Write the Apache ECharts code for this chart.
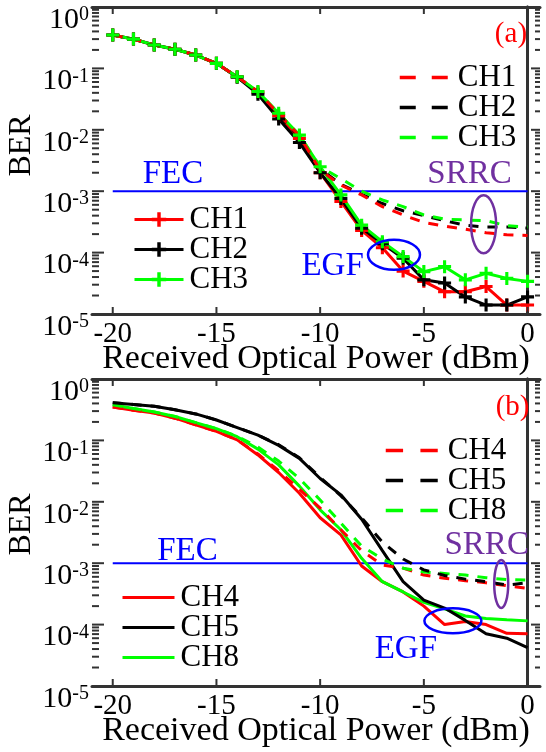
<!DOCTYPE html>
<html>
<head>
<meta charset="utf-8">
<script src="https://cdn.jsdelivr.net/npm/echarts@6/dist/echarts.min.js"></script>
<style>
  html, body { margin: 0; padding: 0; background: #fff; }
  #grafico { width: 546px; height: 752px; }
</style>
</head>
<body>
<div id="grafico"></div>
<script>
// potencia optica recibida (dBm)
const potencia = [-20,-19,-18,-17,-16,-15,-14,-13,-12,-11,-10,-9,-8,-7,-6,-5,-4,-3,-2,-1,0];
const ticksX = [-20, -15, -10, -5, 0];
const ticksY = [1e-5, 1e-4, 1e-3, 1e-2, 1e-1, 1];
const umbralFEC = 1e-3;

// (a) EGF, solidas con marcadores
const ch1EGF = [0.35,0.30,0.24,0.205,0.165,0.121,0.073,0.041,0.017,0.0072,0.0020,6.8e-4,2.3e-4,1.2e-4,5.0e-5,3.4e-5,2.3e-5,2.3e-5,2.8e-5,1.4e-5,1.4e-5];
const ch2EGF = [0.35,0.30,0.24,0.205,0.165,0.121,0.072,0.038,0.015,0.0062,0.0020,7.6e-4,2.5e-4,1.4e-4,8.1e-5,3.6e-5,3.2e-5,1.9e-5,1.4e-5,1.4e-5,1.9e-5];
const ch3EGF = [0.35,0.30,0.24,0.205,0.165,0.121,0.073,0.042,0.0186,0.0082,0.0025,8.7e-4,2.8e-4,1.5e-4,8.6e-5,4.9e-5,5.9e-5,3.6e-5,4.6e-5,3.8e-5,3.4e-5];
// (a) SRRC, discontinuas
const ch1SRRC = [0.35,0.30,0.24,0.205,0.165,0.121,0.073,0.042,0.018,0.0080,0.0022,0.00126,8.7e-4,5.6e-4,4.1e-4,3.1e-4,2.7e-4,2.4e-4,2.1e-4,1.95e-4,1.9e-4];
const ch2SRRC = [0.35,0.30,0.24,0.205,0.165,0.121,0.072,0.040,0.017,0.0078,0.0023,0.0013,8.9e-4,6.3e-4,4.8e-4,4.0e-4,3.3e-4,2.8e-4,2.6e-4,2.6e-4,2.5e-4];
const ch3SRRC = [0.35,0.30,0.24,0.205,0.165,0.121,0.073,0.042,0.0186,0.0082,0.0025,0.0016,0.0010,7.2e-4,5.6e-4,4.1e-4,3.5e-4,3.4e-4,3.3e-4,2.75e-4,2.6e-4];

// (b) EGF, solidas
const ch4EGF = [0.35,0.31,0.28,0.23,0.18,0.14,0.102,0.058,0.030,0.0138,0.0055,0.0029,9.0e-4,5.0e-4,3.4e-4,2.0e-4,1.0e-4,1.12e-4,1.0e-4,7.2e-5,7.1e-5];
const ch5EGF = [0.41,0.385,0.36,0.315,0.27,0.215,0.162,0.122,0.083,0.051,0.024,0.013,0.0052,0.0016,5.0e-4,2.5e-4,1.86e-4,1.17e-4,7.1e-5,6.0e-5,4.2e-5];
const ch8EGF = [0.38,0.33,0.29,0.245,0.195,0.155,0.115,0.072,0.040,0.018,0.0074,0.0035,0.0012,5.0e-4,3.4e-4,2.3e-4,1.8e-4,1.38e-4,1.26e-4,1.2e-4,1.15e-4];
// (b) SRRC, discontinuas
const ch4SRRC = [0.35,0.31,0.28,0.23,0.18,0.14,0.102,0.060,0.032,0.016,0.0079,0.0035,0.0016,9.3e-4,8.3e-4,6.4e-4,5.7e-4,5.2e-4,4.8e-4,4.3e-4,3.9e-4];
const ch5SRRC = [0.41,0.385,0.36,0.315,0.27,0.215,0.162,0.122,0.085,0.052,0.025,0.0125,0.0055,0.0022,0.00117,7.8e-4,6.3e-4,5.5e-4,5.0e-4,4.4e-4,4.8e-4];
const ch8SRRC = [0.38,0.33,0.29,0.245,0.195,0.155,0.117,0.078,0.046,0.024,0.0107,0.0045,0.0019,0.00117,8.3e-4,7.2e-4,6.8e-4,6.4e-4,5.8e-4,5.4e-4,5.3e-4];

// anotaciones (en coordenadas de datos)
const notas = [
  { g: 0, texto: 'FEC',  p: -17.1, ber: 1e-3, dy: -17, color: '#0000ff', size: 33 },
  { g: 0, texto: 'SRRC', p: -2.8,  ber: 1e-3, dy: -17, color: '#7030a0', size: 33 },
  { g: 0, texto: '(a)',  p: -0.8,  ber: 0.36, dy: 0,   color: '#ff0000', size: 29 },
  { g: 0, texto: 'EGF',  p: -9.4,  ber: 6e-5, dy: 0,   color: '#0000ff', size: 33 },
  { g: 1, texto: 'FEC',  p: -16.4, ber: 1e-3, dy: -12, color: '#0000ff', size: 33 },
  { g: 1, texto: 'SRRC', p: -1.97, ber: 1e-3, dy: -18, color: '#7030a0', size: 33 },
  { g: 1, texto: '(b)',  p: -0.72, ber: 0.34, dy: 0,   color: '#ff0000', size: 29 },
  { g: 1, texto: 'EGF',  p: -5.87, ber: 4e-5, dy: 0,   color: '#0000ff', size: 33 }
];
const elipses = [
  { g: 0, p: -6.44, ber: 9.2e-5, rx: 26, ry: 15, color: '#0000ff' },
  { g: 0, p: -2.12, ber: 2.9e-4, rx: 12.5, ry: 29, color: '#7030a0' },
  { g: 1, p: -3.6,  ber: 1.15e-4, rx: 28.5, ry: 12.5, color: '#0000ff' },
  { g: 1, p: -1.27, ber: 4.6e-4, rx: 7, ry: 24, color: '#7030a0' }
];

const fuente = "'Liberation Serif', 'Times New Roman', serif";
const cruz = 'path://M3.8,0H6.2V3.8H10V6.2H6.2V10H3.8V6.2H0V3.8H3.8Z';
const ROJO = '#ff0000', NEGRO = '#000000', VERDE = '#00ff00';
const X_MIN = -21, X_MAX = 0.6, Y_MIN = 1e-5, Y_MAX = 1;

// marcas menores del eje log (2..9 por decada)
const menores = [];
for (let e = -5; e < 0; e++) {
  for (let k = 2; k <= 9; k++) menores.push(k * Math.pow(10, e));
}

// direccion y largo de cada tipo de marca (abajo, arriba, izq mayor, izq menor, der mayor, der menor)
const marcasDir = [[0, -7], [0, 7], [12, 0], [7, 0], [-9, 0], [-5, 0]];

function ejesX(g) {
  const base = {
    type: 'value', gridIndex: g, min: X_MIN, max: X_MAX,
    axisLine: { show: true, lineStyle: { color: '#333', width: 3 } },
    axisTick: { show: false },
    splitLine: { show: false }
  };
  return [
    Object.assign({}, base, {
      position: 'bottom',
      axisLabel: { customValues: ticksX, fontSize: 29, fontFamily: fuente, color: '#000', margin: 6 },
      name: 'Received Optical Power (dBm)', nameLocation: 'middle', nameGap: 28,
      nameMoveOverlap: false,
      nameTextStyle: { fontSize: 34, fontFamily: fuente, color: '#000' }
    }),
    Object.assign({}, base, { position: 'top', axisLabel: { show: false } })
  ];
}

function ejesY(g, subir) {
  const base = {
    type: 'log', logBase: 10, gridIndex: g, min: Y_MIN, max: Y_MAX,
    axisLine: { show: true, lineStyle: { color: '#333', width: 3 } },
    axisTick: { show: false },
    splitLine: { show: false }, axisLabel: { show: false }
  };
  return [
    Object.assign({}, base, {
      position: 'left',
      axisLabel: {
        show: true, customValues: ticksY, margin: 3, fontFamily: fuente, color: '#000',
        formatter: v => '{e| }\n{b|10}{s|' + Math.round(Math.log10(v)) + '}',
        rich: {
          e: { fontSize: 1, lineHeight: 26 },
          b: { fontSize: 30, lineHeight: 30, fontFamily: fuente, color: '#000', verticalAlign: 'bottom' },
          s: { fontSize: 20, lineHeight: 16, fontFamily: fuente, color: '#000', verticalAlign: 'top' }
        }
      },
      name: 'BER', nameLocation: 'middle', nameGap: 54, nameMoveOverlap: false,
      nameTextStyle: { fontSize: 32, fontFamily: fuente, color: '#000', padding: [0, 0, 0, subir] }
    }),
    Object.assign({}, base, { position: 'right' })
  ];
}

function linea(nombre, valores, color, g, discontinua, marcador) {
  return {
    name: nombre, type: 'line',
    xAxisIndex: g * 2, yAxisIndex: g * 2,
    data: potencia.map((p, i) => [p, valores[i]]),
    symbol: marcador ? cruz : 'none',
    symbolSize: 13,
    showSymbol: !!marcador,
    color: color,
    itemStyle: { color: color, borderWidth: 0 },
    lineStyle: { color: color, width: 3, type: discontinua ? [10, 9] : 'solid' },
    emphasis: { disabled: true },
    silent: true
  };
}

function fec(g) {
  return {
    name: 'FEC', type: 'line', xAxisIndex: g * 2, yAxisIndex: g * 2,
    data: [[-20, umbralFEC], [0, umbralFEC]],
    symbol: 'none', lineStyle: { color: '#0000ff', width: 2 }, silent: true
  };
}

// marcas de los ejes dibujadas con la escala de cada eje
function marcas(g) {
  const datos = []
    .concat(ticksX.map(v => [v, Y_MIN, 0]))
    .concat(ticksX.map(v => [v, Y_MAX, 1]))
    .concat(ticksY.map(v => [X_MIN, v, 2]))
    .concat(menores.map(v => [X_MIN, v, 3]))
    .concat(ticksY.map(v => [X_MAX, v, 4]))
    .concat(menores.map(v => [X_MAX, v, 5]));
  return {
    name: 'marcas', type: 'custom', xAxisIndex: g * 2, yAxisIndex: g * 2,
    silent: true, clip: false, z: 5,
    data: datos,
    renderItem: (params, api) => {
      const c = api.coord([api.value(0), api.value(1)]);
      const d = marcasDir[api.value(2)];
      return {
        type: 'line',
        shape: { x1: c[0], y1: c[1], x2: c[0] + d[0], y2: c[1] + d[1] },
        style: { stroke: '#333', lineWidth: 2 }
      };
    }
  };
}

function leyenda(nombres, left, top, ancho, discontinua, conMarcador) {
  const l = {
    data: nombres, orient: 'vertical', left: left, top: top,
    itemWidth: ancho, itemHeight: 18, itemGap: -1, selectedMode: false,
    formatter: n => n.split(' ')[0],
    lineStyle: { width: 3 },
    textStyle: { fontSize: 31, fontFamily: fuente, color: '#000', lineHeight: 29, padding: [0, 0, 0, discontinua ? 5 : 1] }
  };
  if (discontinua) {
    const d = ancho / 3;
    l.lineStyle = { type: [d, d], width: 3.5 };
  }
  if (!conMarcador) l.itemStyle = { opacity: 0 };
  return l;
}

const grafico = echarts.init(document.getElementById('grafico'), null, { renderer: 'canvas' });

const opcion = {
  animation: false,
  backgroundColor: '#fff',
  grid: [
    { left: 92, right: 6, top: 7, height: 307, outerBoundsMode: 'none' },
    { left: 92, right: 6, top: 379, height: 307, outerBoundsMode: 'none' }
  ],
  xAxis: ejesX(0).concat(ejesX(1)),
  yAxis: ejesY(0, 30).concat(ejesY(1, 16)),
  legend: [
    leyenda(['CH1 SRRC', 'CH2 SRRC', 'CH3 SRRC'], 393, 57, 48, true, false),
    leyenda(['CH1', 'CH2', 'CH3'], 128, 199, 49, false, true),
    leyenda(['CH4 SRRC', 'CH5 SRRC', 'CH8 SRRC'], 379, 430, 52, true, false),
    leyenda(['CH4', 'CH5', 'CH8'], 116, 577, 52, false, false)
  ],
  series: [
    fec(0),
    linea('CH1', ch1EGF, ROJO, 0, false, true),
    linea('CH2', ch2EGF, NEGRO, 0, false, true),
    linea('CH3', ch3EGF, VERDE, 0, false, true),
    linea('CH2 SRRC', ch2SRRC, NEGRO, 0, true, false),
    linea('CH3 SRRC', ch3SRRC, VERDE, 0, true, false),
    linea('CH1 SRRC', ch1SRRC, ROJO, 0, true, false),
    marcas(0),
    fec(1),
    linea('CH4', ch4EGF, ROJO, 1, false, false),
    linea('CH8', ch8EGF, VERDE, 1, false, false),
    linea('CH5', ch5EGF, NEGRO, 1, false, false),
    linea('CH4 SRRC', ch4SRRC, ROJO, 1, true, false),
    linea('CH8 SRRC', ch8SRRC, VERDE, 1, true, false),
    linea('CH5 SRRC', ch5SRRC, NEGRO, 1, true, false),
    marcas(1)
  ]
};
grafico.setOption(opcion);

// textos y elipses ubicados por las escalas de los ejes
const aPixel = (g, p, ber) => grafico.convertToPixel({ xAxisIndex: g * 2, yAxisIndex: g * 2 }, [p, ber]);
const graficos = [];
notas.forEach(n => {
  const pt = aPixel(n.g, n.p, n.ber);
  graficos.push({
    type: 'text', x: pt[0], y: pt[1] + n.dy, silent: true, z: 100,
    style: { text: n.texto, fill: n.color, fontSize: n.size, fontFamily: fuente, align: 'center', verticalAlign: 'middle' }
  });
});
elipses.forEach(e => {
  const pt = aPixel(e.g, e.p, e.ber);
  graficos.push({
    type: 'ellipse', silent: true, z: 100,
    shape: { cx: pt[0], cy: pt[1], rx: e.rx, ry: e.ry },
    style: { fill: 'none', stroke: e.color, lineWidth: 2.5 }
  });
});
grafico.setOption({ graphic: graficos });
</script>
</body>
</html>
